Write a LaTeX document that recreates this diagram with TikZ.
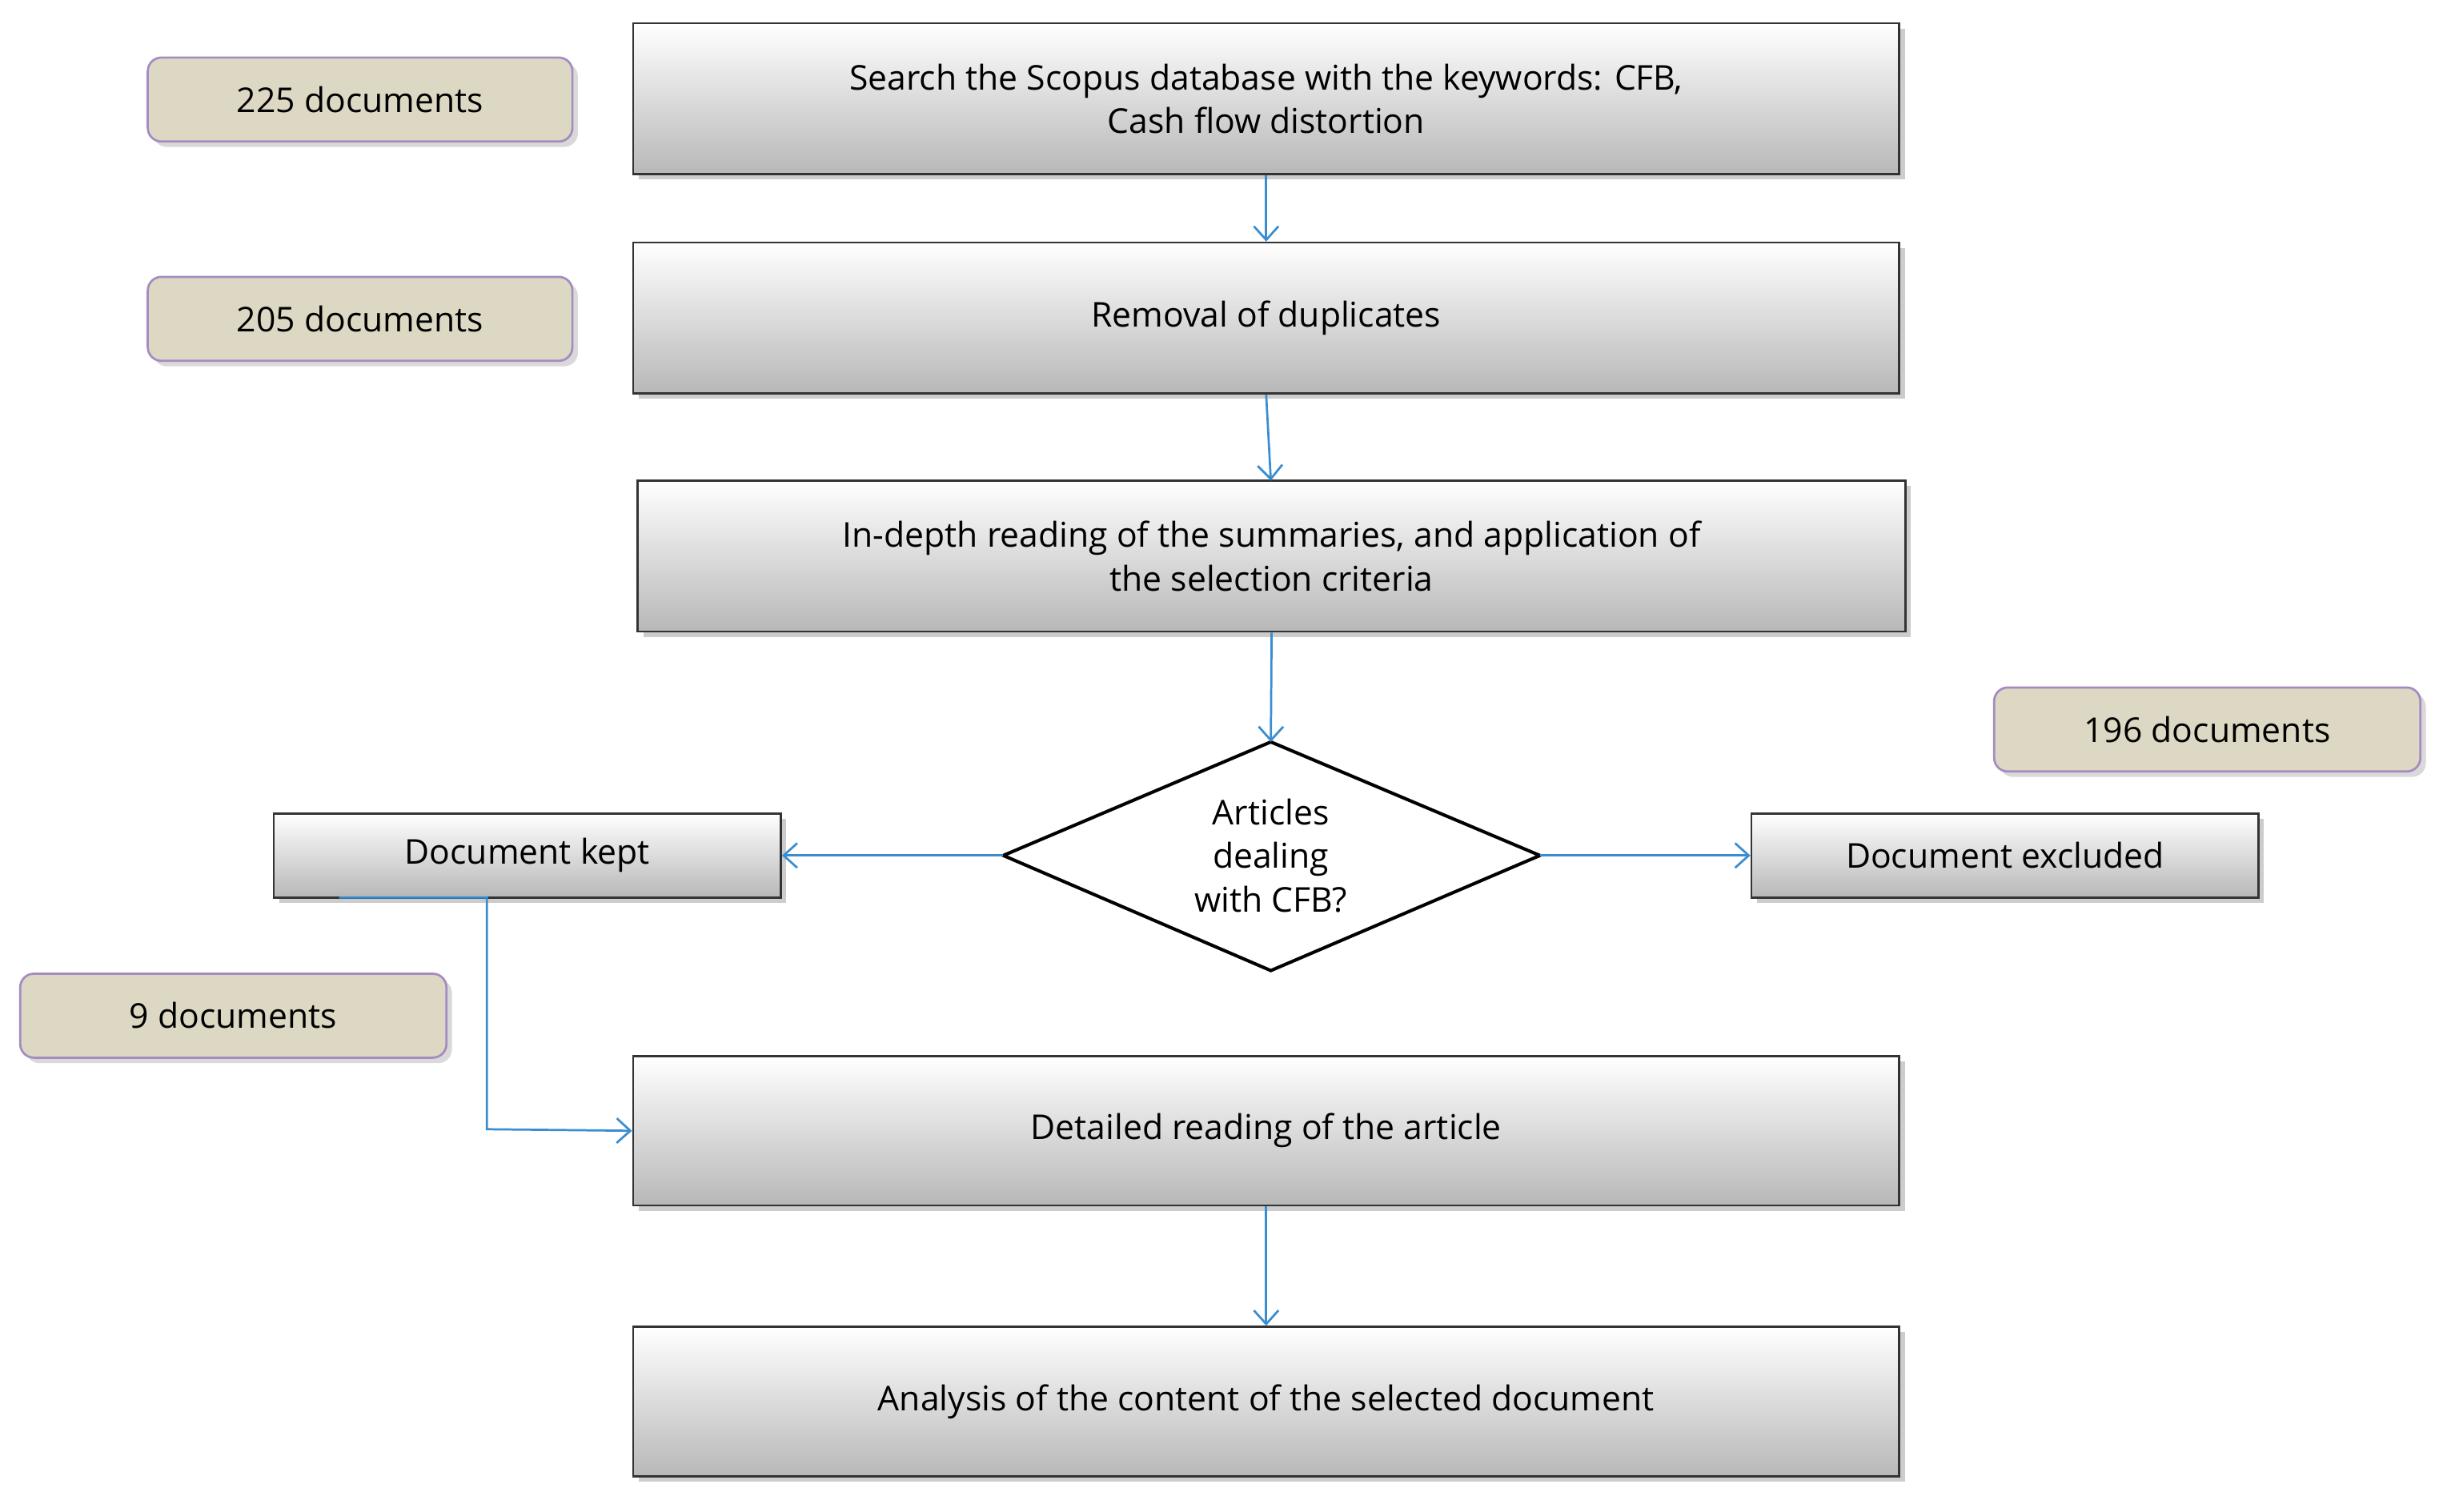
\documentclass[tikz,border=0pt]{standalone}
\usepackage{fontspec}
\setmainfont{Open Sans}
\usetikzlibrary{shapes.geometric,shadows,arrows.meta}
\definecolor{tagfill}{HTML}{DDD8C4}
\definecolor{tagline}{HTML}{A58CC0}
\definecolor{arr}{HTML}{3A8DD0}
\begin{document}
\begin{tikzpicture}[x=0.02cm,y=-0.02cm,
 box/.style={draw=black!80,thick,top color=white,bottom color=black!28,drop shadow={shadow xshift=2pt,shadow yshift=-2pt,opacity=0.4},align=center,font=\fontsize{12.5}{16}\selectfont,inner sep=0pt},
 tag/.style={draw=tagline,thick,fill=tagfill,rounded corners=5pt,drop shadow={shadow xshift=2pt,shadow yshift=-2pt,opacity=0.3},font=\fontsize{12.5}{16}\selectfont,inner sep=0pt},
 ar/.style={draw=arr,thick,-{Straight Barb[length=5pt,width=9pt]}}]
\useasboundingbox (0,0) rectangle (1568,972);
\newcommand{\bx}[6]{\node[#6,minimum width={(#3-#2)*0.02cm},minimum height={(#5-#4)*0.02cm}] (#1) at ({(#2+#3)/2},{(#4+#5)/2})}
\bx{b1}{407}{1221}{15}{112}{box} {Search the Scopus database with the keywords: CFB,\\Cash flow distortion};
\bx{b2}{407}{1221}{156}{253}{box} {Removal of duplicates};
\bx{b3}{410}{1225}{309}{406}{box} {In-depth reading of the summaries, and application of\\the selection criteria};
\bx{kept}{176}{502}{523}{577}{box} {Document kept};
\bx{exc}{1126}{1452}{523}{577}{box} {Document excluded};
\bx{b4}{407}{1221}{679}{775}{box} {Detailed reading of the article};
\bx{b5}{407}{1221}{853}{949}{box} {Analysis of the content of the selected document};
\bx{t1}{95}{368}{37}{91}{tag} {225 documents};
\bx{t2}{95}{368}{178}{232}{tag} {205 documents};
\bx{t3}{1282}{1556}{442}{496}{tag} {196 documents};
\bx{t4}{13}{287}{626}{680}{tag} {9 documents};
\draw[very thick,fill=white] (645,550) -- (817,477) -- (990,550) -- (817,624) -- cycle;
\node[align=center,font=\fontsize{12.5}{16}\selectfont] (d) at (817,550) {Articles\\dealing\\with CFB?};
\coordinate (dl) at (645,550);
\coordinate (dr) at (990,550);
\coordinate (dt) at (817,477);
\draw[ar] (b1.south) -- (b2.north);
\draw[ar] (b2.south) -- (817,309);
\draw[ar] (b3.south) -- (dt);
\draw[ar] (dl) -- (kept.east);
\draw[ar] (dr) -- (exc.west);
\coordinate (ks) at (218,577);
\draw[ar] (ks) -- (313,577) -- (313,726) -- (b4.west);
\draw[ar] (b4.south) -- (b5.north);
\end{tikzpicture}
\end{document}
